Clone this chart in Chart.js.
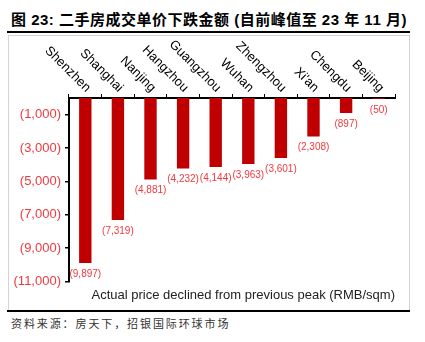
<!DOCTYPE html>
<html>
<head>
<meta charset="utf-8">
<script src="https://cdn.jsdelivr.net/npm/chart.js@4"></script>
<style>
  body { margin: 0; background: #fff; width: 425px; height: 342px; position: relative; overflow: hidden; }
  #title { position: absolute; left: 11px; top: 8px; font: bold 15px "Liberation Sans", "Noto Sans CJK SC", sans-serif; letter-spacing: 0.5px; color: #000; white-space: nowrap; }
  .rule { position: absolute; left: 7px; width: 403px; background: #000; }
  #box { position: absolute; left: 8px; top: 35px; width: 402px; height: 275px; border: 1px solid #d4d4d4; border-bottom: none; box-sizing: border-box; }
  #chart { position: absolute; left: 9px; top: 36px; }
  #source { position: absolute; left: 11px; top: 315px; font: 11px "Noto Sans CJK SC", sans-serif; letter-spacing: 1.9px; color: #333; white-space: nowrap; }
</style>
</head>
<body>
<div id="title">图 23: 二手房成交单价下跌金额 (自前峰值至 23 年 11 月)</div>
<div class="rule" style="top:31px;height:2px;"></div>
<div id="box"></div>
<canvas id="chart" width="401" height="274"></canvas>
<div class="rule" style="top:310px;height:2px;"></div>
<div id="source">资料来源：房天下，招银国际环球市场</div>
<script>
'use strict';

const CITIES = ['Shenzhen', 'Shanghai', 'Nanjing', 'Hangzhou', 'Guangzhou', 'Wuhan', 'Zhengzhou', "Xi'an", 'Chengdu', 'Beijing'];
const DECLINES = [-9897, -7319, -4881, -4232, -4144, -3963, -3601, -2308, -897, -50];
const Y_TICKS = [-11000, -9000, -7000, -5000, -3000, -1000];

const RED_TEXT = '#f0393e';
const BAR_RED = '#c00000';

const fmt = v => '(' + Math.abs(v).toLocaleString('en-US') + ')';

// rotated category names sitting above the top axis
const cityLabels = {
    id: 'cityLabels',
    afterDraw(chart) {
        const { ctx, scales: { x } } = chart;
        ctx.save();
        ctx.font = '13px "Liberation Sans", Arial, sans-serif';
        ctx.fillStyle = '#000';
        ctx.textAlign = 'right';
        ctx.textBaseline = 'middle';
        CITIES.forEach((c, i) => {
            ctx.save();
            ctx.translate(x.getPixelForValue(i) + 3, x.bottom - 8);
            ctx.rotate(Math.PI / 4);
            ctx.fillText(c, 0, 0);
            ctx.restore();
        });
        ctx.restore();
    }
};

// value labels under each bar
const valueLabels = {
    id: 'valueLabels',
    afterDatasetsDraw(chart) {
        const { ctx } = chart;
        const meta = chart.getDatasetMeta(0);
        ctx.save();
        ctx.font = '10px "Liberation Sans", Arial, sans-serif';
        ctx.fillStyle = RED_TEXT;
        ctx.textAlign = 'center';
        ctx.textBaseline = 'top';
        meta.data.forEach((bar, i) => {
            ctx.fillText(fmt(DECLINES[i]), bar.x, bar.y + 6);
        });
        ctx.restore();
    }
};

new Chart(document.getElementById('chart'), {
    type: 'bar',
    data: {
        labels: CITIES,
        datasets: [{
            data: DECLINES,
            backgroundColor: BAR_RED,
            borderWidth: 0,
            barPercentage: 0.38,
            categoryPercentage: 1
        }]
    },
    options: {
        responsive: false,
        animation: false,
        layout: { padding: { left: 0, right: 15, top: 0, bottom: 0 } },
        plugins: {
            legend: { display: false },
            tooltip: { enabled: false },
            title: {
                display: true,
                position: 'bottom',
                align: 'end',
                text: 'Actual price declined from previous peak (RMB/sqm)',
                color: '#222',
                font: { family: '"Liberation Sans", Arial, sans-serif', size: 13, weight: 'normal' },
                padding: { top: 6, bottom: 7 }
            }
        },
        scales: {
            x: {
                position: 'top',
                offset: true,
                grid: { offset: true, drawOnChartArea: false, drawTicks: true, tickLength: 4, color: '#000', lineWidth: 1 },
                border: { color: '#000', width: 2 },
                ticks: { display: false },
                afterFit: s => { s.height = 62; }
            },
            y: {
                min: -11000,
                max: 0,
                afterBuildTicks: s => { s.ticks = Y_TICKS.map(v => ({ value: v })); },
                afterFit: s => { s.width = 60; },
                grid: { drawOnChartArea: false, drawTicks: true, tickLength: 4, color: '#000', lineWidth: 1.5 },
                border: { color: '#000', width: 2 },
                ticks: {
                    color: RED_TEXT,
                    padding: 4,
                    font: { family: '"Liberation Sans", Arial, sans-serif', size: 13 },
                    callback: v => fmt(v)
                }
            }
        }
    },
    plugins: [cityLabels, valueLabels]
});
</script>
</body>
</html>
